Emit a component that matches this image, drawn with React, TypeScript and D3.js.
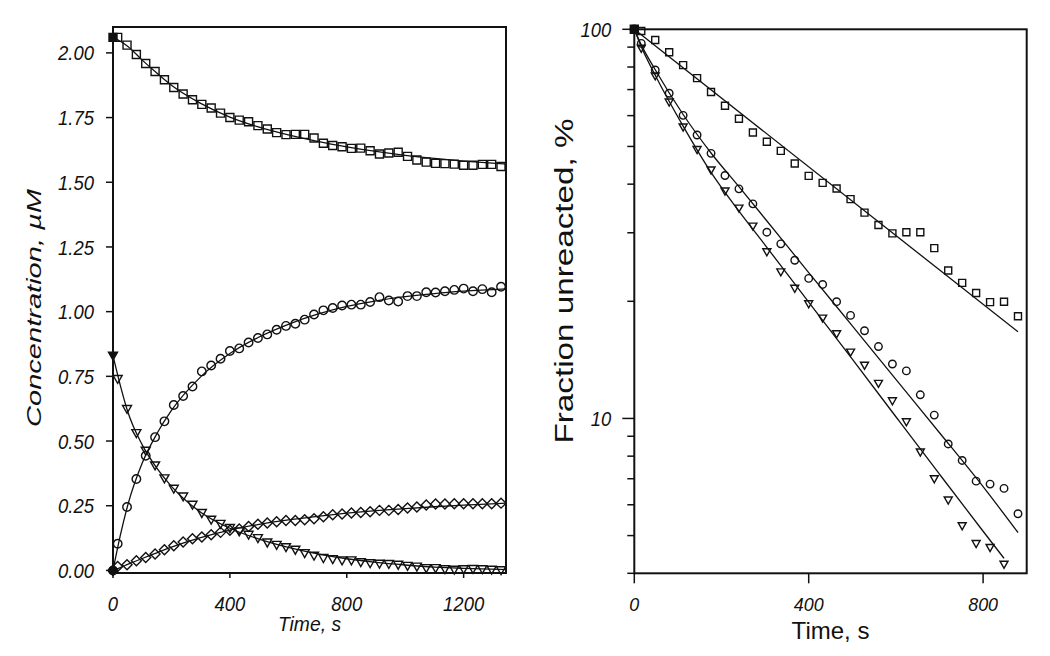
import React from 'react';
import * as d3 from 'd3';

// ---------- Left panel data (Concentration, µM vs Time, s) ----------
const leftTimes = [16, 48, 80, 112, 144, 176, 208, 240, 272, 304, 336, 368, 400, 432, 464, 496, 528, 560, 592, 624, 656, 688, 720, 752, 784, 816, 848, 880, 912, 944, 976, 1008, 1040, 1072, 1104, 1136, 1168, 1200, 1232, 1264, 1296, 1328];
const leftSquares = [2.06, 2.030, 1.994, 1.959, 1.928, 1.896, 1.866, 1.841, 1.819, 1.801, 1.787, 1.767, 1.750, 1.740, 1.734, 1.719, 1.706, 1.692, 1.684, 1.685, 1.685, 1.671, 1.651, 1.642, 1.637, 1.631, 1.632, 1.622, 1.609, 1.613, 1.616, 1.600, 1.586, 1.578, 1.573, 1.572, 1.570, 1.566, 1.566, 1.569, 1.569, 1.561];
const leftCircles = [0.103, 0.245, 0.353, 0.443, 0.515, 0.576, 0.639, 0.674, 0.711, 0.769, 0.792, 0.818, 0.848, 0.858, 0.881, 0.898, 0.912, 0.930, 0.945, 0.953, 0.969, 0.989, 1.005, 1.014, 1.024, 1.027, 1.027, 1.037, 1.056, 1.043, 1.039, 1.060, 1.060, 1.075, 1.074, 1.079, 1.084, 1.089, 1.079, 1.087, 1.075, 1.096];
const leftTriangles = [0.740, 0.624, 0.531, 0.463, 0.406, 0.356, 0.316, 0.286, 0.254, 0.222, 0.196, 0.180, 0.164, 0.151, 0.138, 0.125, 0.108, 0.099, 0.090, 0.080, 0.067, 0.057, 0.048, 0.044, 0.039, 0.039, 0.032, 0.028, 0.026, 0.025, 0.022, 0.018, 0.015, 0.009, 0.009, 0.005, 0.003, 0.005, 0.006, 0.005, 0.003, 0.001];
const leftDiamonds = [0.015, 0.022, 0.037, 0.050, 0.063, 0.080, 0.095, 0.110, 0.122, 0.129, 0.138, 0.147, 0.155, 0.160, 0.170, 0.178, 0.183, 0.188, 0.193, 0.193, 0.196, 0.200, 0.207, 0.215, 0.218, 0.222, 0.224, 0.227, 0.232, 0.232, 0.235, 0.241, 0.245, 0.253, 0.257, 0.257, 0.258, 0.258, 0.258, 0.258, 0.258, 0.260];
// initial (t = 0) filled points
const leftStart = { square: 2.06, circle: 0.0, triangle: 0.83, diamond: 0.0 };

// fitted curves
const leftFitTimes = [0, 25, 50, 100, 150, 200, 300, 400, 500, 600, 700, 800, 900, 1000, 1100, 1200, 1345];
const leftSquareFit = [2.06, 2.045, 2.026, 1.972, 1.922, 1.875, 1.805, 1.752, 1.713, 1.683, 1.658, 1.637, 1.619, 1.604, 1.592, 1.582, 1.570];
const leftCircleFit = [0, 0.135, 0.25, 0.415, 0.528, 0.618, 0.748, 0.838, 0.902, 0.951, 0.99, 1.02, 1.042, 1.058, 1.07, 1.079, 1.088];
const leftTriangleFit = [0.83, 0.715, 0.615, 0.485, 0.395, 0.325, 0.225, 0.163, 0.121, 0.089, 0.064, 0.045, 0.031, 0.021, 0.013, 0.008, 0.003];
const leftDiamondFit = [0, 0.011, 0.023, 0.046, 0.068, 0.09, 0.127, 0.156, 0.178, 0.195, 0.209, 0.221, 0.231, 0.239, 0.246, 0.252, 0.26];

const leftYTicks = [0, 0.25, 0.5, 0.75, 1.0, 1.25, 1.5, 1.75, 2.0];
const leftXTicks = [0, 400, 800, 1200];

// ---------- Right panel data (Fraction unreacted, % vs Time, s) ----------
const rightTimes = [16, 48, 80, 112, 144, 176, 208, 240, 272, 304, 336, 368, 400, 432, 464, 496, 528, 560, 592, 624, 656, 688, 720, 752, 784, 816, 848, 880];
const rightSquares = [99.0, 93.9, 87.3, 80.9, 74.9, 69.0, 63.6, 58.9, 54.3, 51.4, 48.7, 45.2, 42.0, 40.3, 39.0, 36.6, 33.8, 31.4, 29.9, 30.1, 30.1, 27.4, 24.0, 22.3, 21.0, 19.9, 19.95, 18.3];
const rightCircles = [92.0, 78.6, 68.5, 60.1, 53.5, 48.0, 42.1, 38.9, 35.6, 30.1, 28.1, 25.5, 22.9, 22.1, 19.95, 18.4, 16.8, 15.3, 13.8, 13.25, 11.5, 10.2, 8.6, 7.8, 6.9, 6.78, 6.61, 5.69];
const rightTriangles = [89.4, 75.9, 65.0, 56.1, 49.1, 43.5, 38.4, 34.7, 31.2, 26.8, 23.8, 21.6, 19.7, 18.1, 16.5, 14.8, 13.7, 12.3, 11.1, 9.8, 8.2, 7.0, 6.17, 5.3, 4.77, 4.66, 4.22];
const rightStart = 100;

const rightSquareFitTimes = [0, 880];
const rightSquareFit = [100, 16.7];
const rightCircleFitTimes = [0, 16, 48, 112, 176, 240, 300, 400, 500, 600, 700, 800, 880];
const rightCircleFit = [100, 91.2, 78.7, 60.4, 48.1, 39.4, 32.6, 23.7, 17.3, 12.6, 9.19, 6.68, 5.09];
const rightTriangleFitTimes = [0, 16, 48, 112, 176, 240, 300, 400, 500, 600, 700, 800, 848];
const rightTriangleFit = [100, 90.2, 76.2, 56.4, 42.9, 34.1, 27.9, 19.9, 14.2, 10.1, 7.19, 5.13, 4.37];

const rightYMajor = [10, 100];
const rightYMinor = [4, 5, 6, 7, 8, 9, 20, 30, 40, 50, 60, 70, 80, 90];
const rightXTicks = [0, 400, 800];

const FONT = '"Liberation Sans", Arial, sans-serif';
const INK = '#111';

type Shape = 'square' | 'circle' | 'triangle' | 'diamond';

function markerPath(shape: Shape, s: number): string {
  const p = d3.path();
  if (shape === 'square') {
    p.rect(-s / 2, -s / 2, s, s);
  } else if (shape === 'circle') {
    p.arc(0, 0, s / 2, 0, Math.PI * 2);
  } else if (shape === 'triangle') {
    p.moveTo(-s / 2, -s * 0.38);
    p.lineTo(s / 2, -s * 0.38);
    p.lineTo(0, s * 0.5);
    p.closePath();
  } else {
    p.moveTo(0, -s / 2);
    p.lineTo(s / 2, 0);
    p.lineTo(0, s / 2);
    p.lineTo(-s / 2, 0);
    p.closePath();
  }
  return p.toString();
}

function Markers({ xs, ys, sx, sy, shape, size, filled }: any) {
  const d = markerPath(shape, size);
  return (
    <g>
      {xs.map((t: number, i: number) => (
        <path
          key={i}
          d={d}
          transform={`translate(${sx(t)},${sy(ys[i])})`}
          fill={filled ? INK : 'none'}
          stroke={INK}
          strokeWidth={1.4}
        />
      ))}
    </g>
  );
}

function FitLine({ xs, ys, sx, sy }: any) {
  const line = d3
    .line<number>()
    .x((t) => sx(t))
    .y((_, i) => sy(ys[i]))
    .curve(d3.curveMonotoneX);
  return <path d={line(xs) || ''} fill="none" stroke={INK} strokeWidth={1.3} />;
}

// condensed label (horizontally squeezed)
function Cond({ x, y, anchor, size, squeeze, italic, children, dy }: any) {
  return (
    <text
      transform={`translate(${x},${y}) scale(${squeeze},1)`}
      textAnchor={anchor}
      fontSize={size}
      fontStyle={italic ? 'italic' : 'normal'}
      fill={INK}
      dy={dy}
    >
      {children}
    </text>
  );
}

export default function App() {
  // Left panel scales
  const L = { left: 113, right: 506, top: 27, bottom: 573 };
  const lx = d3.scaleLinear().domain([0, 1345]).range([L.left, L.right]);
  const ly = d3.scaleLinear().domain([-0.01, 2.1]).range([L.bottom, L.top]);

  // Right panel scales
  const R = { left: 634.3, right: 1026.7, top: 29.3, bottom: 573.3 };
  const rx = d3.scaleLinear().domain([0, 900]).range([R.left, R.right]);
  const ry = d3.scaleLog().domain([4, 100]).range([R.bottom, R.top]);

  const fmt = d3.format('.2f');

  return (
    <svg
      width={1050}
      height={656}
      style={{ position: 'absolute', left: 0, top: 0, background: '#fff' }}
      fontFamily={FONT}
    >
      <rect x={0} y={0} width={1050} height={656} fill="#fff" />

      {/* ================= LEFT PANEL ================= */}
      <g>
        <FitLine xs={leftFitTimes} ys={leftSquareFit} sx={lx} sy={ly} />
        <FitLine xs={leftFitTimes} ys={leftCircleFit} sx={lx} sy={ly} />
        <FitLine xs={leftFitTimes} ys={leftTriangleFit} sx={lx} sy={ly} />
        <FitLine xs={leftFitTimes} ys={leftDiamondFit} sx={lx} sy={ly} />

        <Markers xs={leftTimes} ys={leftSquares} sx={lx} sy={ly} shape="square" size={8} />
        <Markers xs={leftTimes} ys={leftCircles} sx={lx} sy={ly} shape="circle" size={8.5} />
        <Markers xs={leftTimes} ys={leftTriangles} sx={lx} sy={ly} shape="triangle" size={9} />
        <Markers xs={leftTimes} ys={leftDiamonds} sx={lx} sy={ly} shape="diamond" size={10} />

        <Markers xs={[0]} ys={[leftStart.square]} sx={lx} sy={ly} shape="square" size={8} filled />
        <Markers xs={[0]} ys={[leftStart.triangle]} sx={lx} sy={ly} shape="triangle" size={9} filled />
        <Markers xs={[0]} ys={[leftStart.circle]} sx={lx} sy={ly} shape="circle" size={8.5} filled />
        <Markers xs={[0]} ys={[leftStart.diamond]} sx={lx} sy={ly} shape="diamond" size={10} filled />

        <rect
          x={L.left}
          y={L.top}
          width={L.right - L.left}
          height={L.bottom - L.top}
          fill="none"
          stroke={INK}
          strokeWidth={2}
        />

        {leftYTicks.map((v) => (
          <g key={v}>
            <line x1={L.left - 7} x2={L.left} y1={ly(v)} y2={ly(v)} stroke={INK} strokeWidth={1.5} />
            <Cond x={L.left - 19} y={ly(v)} dy="0.36em" anchor="end" size={21} squeeze={0.88} italic>
              {fmt(v)}
            </Cond>
          </g>
        ))}

        {leftXTicks.map((v) => (
          <g key={v}>
            <line x1={lx(v)} x2={lx(v)} y1={L.bottom} y2={L.bottom + 5} stroke={INK} strokeWidth={1.5} />
            <Cond x={lx(v)} y={611} anchor="middle" size={21} squeeze={0.88} italic>
              {v}
            </Cond>
          </g>
        ))}

        <Cond x={(L.left + L.right) / 2} y={631} anchor="middle" size={21} squeeze={0.92} italic>
          Time, s
        </Cond>
        <text
          transform={`translate(41,308) rotate(-90)`}
          textAnchor="middle"
          fontSize={21}
          fontStyle="italic"
          fill={INK}
          textLength={238}
          lengthAdjust="spacingAndGlyphs"
        >
          Concentration, µM
        </text>
      </g>

      {/* ================= RIGHT PANEL ================= */}
      <g>
        <FitLine xs={rightSquareFitTimes} ys={rightSquareFit} sx={rx} sy={ry} />
        <FitLine xs={rightCircleFitTimes} ys={rightCircleFit} sx={rx} sy={ry} />
        <FitLine xs={rightTriangleFitTimes} ys={rightTriangleFit} sx={rx} sy={ry} />

        <Markers xs={rightTimes} ys={rightSquares} sx={rx} sy={ry} shape="square" size={7} />
        <Markers xs={rightTimes} ys={rightCircles} sx={rx} sy={ry} shape="circle" size={7.5} />
        <Markers
          xs={rightTimes.slice(0, rightTriangles.length)}
          ys={rightTriangles}
          sx={rx}
          sy={ry}
          shape="triangle"
          size={8}
        />

        <Markers xs={[0]} ys={[rightStart]} sx={rx} sy={ry} shape="circle" size={8} filled />
        <Markers xs={[0]} ys={[rightStart]} sx={rx} sy={ry} shape="square" size={8} filled />

        <rect
          x={R.left}
          y={R.top}
          width={R.right - R.left}
          height={R.bottom - R.top}
          fill="none"
          stroke={INK}
          strokeWidth={2}
        />

        {rightYMinor.map((v) => (
          <line key={'m' + v} x1={R.left - 7} x2={R.left} y1={ry(v)} y2={ry(v)} stroke={INK} strokeWidth={1.5} />
        ))}
        {rightYMajor.map((v) => (
          <g key={v}>
            <line x1={R.left - 12} x2={R.left} y1={ry(v)} y2={ry(v)} stroke={INK} strokeWidth={1.5} />
            <Cond x={R.left - 23} y={ry(v)} dy="0.36em" anchor="end" size={20} squeeze={0.92} italic>
              {v}
            </Cond>
          </g>
        ))}

        {rightXTicks.map((v) => (
          <g key={v}>
            <line x1={rx(v)} x2={rx(v)} y1={R.bottom} y2={R.bottom + 10} stroke={INK} strokeWidth={1.5} />
            <Cond x={rx(v)} y={611} anchor="middle" size={19} squeeze={0.94} italic>
              {v}
            </Cond>
          </g>
        ))}

        <text x={(R.left + R.right) / 2} y={639} textAnchor="middle" fontSize={24} fill={INK}>
          Time, s
        </text>
        <text
          transform={`translate(573,281) rotate(-90)`}
          textAnchor="middle"
          fontSize={25}
          fill={INK}
          textLength={325}
          lengthAdjust="spacingAndGlyphs"
        >
          Fraction unreacted, %
        </text>
      </g>
    </svg>
  );
}
